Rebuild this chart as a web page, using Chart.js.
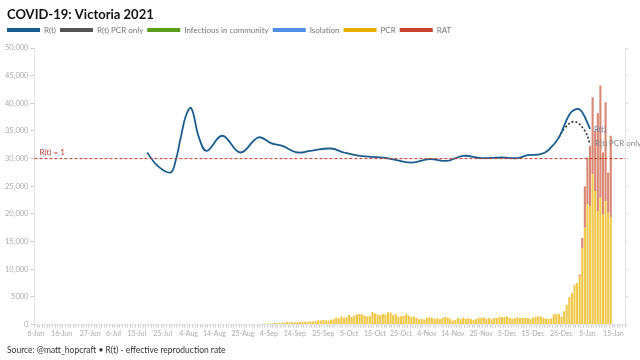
<!DOCTYPE html>
<html lang="en">
<head>
<meta charset="UTF-8">
<title>COVID-19: Victoria 2021</title>
<script src="https://cdn.jsdelivr.net/npm/chart.js"></script>
<style>
  html, body { margin: 0; padding: 0; background: #fff; }
  #wrap { width: 640px; height: 360px; }
</style>
</head>
<body>
<div id="wrap"><canvas id="covidChart"></canvas></div>
<script>
// one category per day, 6-Jun-2021 .. 19-Jan-2022
const monthNames = ['Jan','Feb','Mar','Apr','May','Jun','Jul','Aug','Sep','Oct','Nov','Dec'];
const days = [];
for (let i = 0; i < 228; i++) {
    const d = new Date(2021, 5, 6 + i);
    days.push(d.getDate() + '-' + monthNames[d.getMonth()]);
}

const tickLabels = ['6-Jun','16-Jun','27-Jun','6-Jul','15-Jul','25-Jul','4-Aug','14-Aug','25-Aug',
    '4-Sep','14-Sep','25-Sep','5-Oct','15-Oct','25-Oct','4-Nov','14-Nov','25-Nov','5-Dec','15-Dec',
    '26-Dec','5-Jan','15-Jan'];

// daily cases, PCR from 1-Sep, RAT from 2-Jan
const pcrStart = '1-Sep';
const pcrCases = [
    120,176,208,190,183,246,246,324,334,334,450,392,473,445,423,514,510,535,507,567,603,628,766,733,847,779,705,867,950,1300,
    1143,1488,1220,1377,1763,1420,1638,1838,1965,1890,1612,1466,1571,2297,1993,1838,1749,1903,1841,2232,2189,1750,1935,1461,1510,1534,1923,1656,1355,1471,1221,
    989,1069,941,1247,1313,1221,1035,1126,1003,1173,1362,1313,1052,760,831,1179,1007,1273,1069,1145,1029,827,1029,1254,1252,1342,1061,1173,952,1179,
    1188,1419,1365,1362,1470,1227,1073,1185,1312,1206,1231,1196,1201,1022,1290,1405,1504,1450,1240,1050,1000,1100,1850,1900,1940,1450,2400,3570,5000,5700,7200,
    7500,8720,13860,17490,21740,21430,27180,24150,20520,22940,19920,22340,20220,19300
];
const ratStart = '2-Jan';
const ratCases = [300,1810,7540,8480,10890,13920,10900,17680,20280,11200,17860,7260,14830,0];

// effective reproduction rate (right, hidden axis)
const rtDates = ['19-Jul','23-Jul','28-Jul','30-Jul','1-Aug','3-Aug','5-Aug','8-Aug','11-Aug','17-Aug','24-Aug','31-Aug',
    '5-Sep','9-Sep','15-Sep','20-Sep','28-Sep','3-Oct','9-Oct','17-Oct','21-Oct','29-Oct','5-Nov','12-Nov','18-Nov',
    '25-Nov','3-Dec','9-Dec','13-Dec','18-Dec','21-Dec','25-Dec','29-Dec','1-Jan','3-Jan','6-Jan'];
const rtValues = [1.037,0.957,0.916,0.987,1.128,1.26,1.305,1.128,1.047,1.138,1.037,1.128,
    1.092,1.078,1.037,1.047,1.061,1.037,1.017,1.007,0.999,0.976,0.997,0.987,1.017,
    1.003,1.007,1.003,1.021,1.027,1.052,1.128,1.265,1.3,1.28,1.179];
const rtPcrDates = ['25-Dec','27-Dec','31-Dec','4-Jan','6-Jan'];
const rtPcrValues = [1.128,1.18,1.223,1.168,1.09];

const legendColors = ['#1b5e8e','#555555','#5c9c1c','#4f8fe8','#e8ae00','#c8412c'];
const FONT = 'Lato, "Open Sans", sans-serif';

function padSeries(startLabel, values) {
    const start = days.indexOf(startLabel);
    return days.map((d, i) => (i >= start && i - start < values.length) ? values[i - start] : null);
}
function sparse(dates, values) {
    return days.map(d => {
        const k = dates.indexOf(d);
        return k === -1 ? null : values[k];
    });
}
function lastPoint(chart, index) {
    const meta = chart.getDatasetMeta(index);
    const ds = chart.data.datasets[index].data;
    for (let i = ds.length - 1; i >= 0; i--) {
        if (ds[i] !== null) return meta.data[i];
    }
    return null;
}

// a bit more room under the legend
const legendGap = {
    id: 'legendGap',
    beforeInit(chart) {
        const fit = chart.legend.fit;
        chart.legend.fit = function () {
            fit.bind(chart.legend)();
            this.height += 4;
        };
    }
};

// title, source line, R(t)=1 reference and end labels
const extras = {
    id: 'extras',
    afterDatasetsDraw(chart) {
        const ctx = chart.ctx, area = chart.chartArea, r = chart.scales.yR;
        const y1 = r.getPixelForValue(1);
        ctx.save();
        ctx.strokeStyle = '#c0392b';
        ctx.lineWidth = 1;
        ctx.setLineDash([3, 2]);
        ctx.beginPath();
        ctx.moveTo(area.left, y1);
        ctx.lineTo(area.right, y1);
        ctx.stroke();
        ctx.setLineDash([]);
        ctx.font = '8px ' + FONT;
        ctx.fillStyle = '#c0392b';
        ctx.textBaseline = 'bottom';
        ctx.fillText('R(t) = 1', area.left + 5, y1 - 2);

        ctx.textBaseline = 'middle';
        const p0 = lastPoint(chart, 0), p1 = lastPoint(chart, 1);
        if (p0) {
            ctx.fillStyle = '#6d7c99';
            ctx.fillText('R(t)', p0.x + 4, p0.y);
        }
        if (p1) {
            ctx.fillStyle = '#888';
            ctx.fillText('R(t) PCR only', p1.x + 5, p1.y);
        }
        ctx.restore();
    },
    afterDraw(chart) {
        const ctx = chart.ctx;
        ctx.save();
        ctx.fillStyle = '#111';
        ctx.font = 'bold 13px ' + FONT;
        ctx.textBaseline = 'alphabetic';
        ctx.fillText('COVID-19: Victoria 2021', 7, 19);
        ctx.fillStyle = '#333';
        ctx.font = '8.5px ' + FONT;
        ctx.fillText('Source: @matt_hopcraft \u2022 R(t) - effective reproduction rate', 7, 353);
        ctx.restore();
    }
};

const ctxc = document.getElementById('covidChart').getContext('2d');
new Chart(ctxc, {
    type: 'bar',
    data: {
        labels: days,
        datasets: [
            { type: 'line', label: 'R(t)', data: sparse(rtDates, rtValues), yAxisID: 'yR', spanGaps: true,
              borderColor: '#1b5e8e', borderWidth: 1.8, pointRadius: 0, tension: 0.4, order: 0 },
            { type: 'line', label: 'R(t) PCR only', data: sparse(rtPcrDates, rtPcrValues), yAxisID: 'yR', spanGaps: true,
              borderColor: '#333', borderWidth: 1.6, borderDash: [2, 2], pointRadius: 0, tension: 0.4, order: 0 },
            { label: 'Infectious in community', data: [], backgroundColor: '#5c9c1c', stack: 'cases', order: 1 },
            { label: 'Isolation', data: [], backgroundColor: '#4f8fe8', stack: 'cases', order: 1 },
            { label: 'PCR', data: padSeries(pcrStart, pcrCases), backgroundColor: '#f0c84c', stack: 'cases', order: 1 },
            { label: 'RAT', data: padSeries(ratStart, ratCases), backgroundColor: '#d98876', stack: 'cases', order: 1 }
        ]
    },
    options: {
        animation: false,
        responsive: true,
        maintainAspectRatio: false,
        layout: { padding: { top: 22, bottom: 20, left: 3, right: 12 } },
        datasets: { bar: { barPercentage: 0.82, categoryPercentage: 1 } },
        plugins: {
            legend: {
                align: 'start',
                labels: {
                    boxWidth: 33, boxHeight: 4, padding: 4,
                    useBorderRadius: true, borderRadius: 2,
                    color: '#777', font: { size: 8, family: FONT },
                    generateLabels: chart => chart.data.datasets.map((ds, i) => ({
                        text: ds.label, fillStyle: legendColors[i], strokeStyle: legendColors[i],
                        lineWidth: 0, hidden: false, datasetIndex: i, fontColor: '#777'
                    }))
                }
            },
            tooltip: { enabled: false }
        },
        scales: {
            x: {
                stacked: true,
                offset: true,
                grid: { drawOnChartArea: false, tickLength: 3, color: '#ccc' },
                border: { color: '#e3e3e3' },
                ticks: {
                    autoSkip: false, maxRotation: 0, padding: 2,
                    color: '#aaa', font: { size: 7, family: FONT },
                    callback: (v, i) => tickLabels.includes(days[i]) ? days[i] : ''
                }
            },
            y: {
                stacked: true,
                min: 0, max: 50000,
                grid: { drawOnChartArea: false, tickLength: 4, color: '#ccc' },
                border: { color: '#e3e3e3' },
                ticks: {
                    stepSize: 5000, padding: 2,
                    color: '#aaa', font: { size: 7.5, family: FONT },
                    callback: v => v >= 10000 ? v.toLocaleString('en-US') : String(v)
                }
            },
            yR: {
                axis: 'y',
                position: 'right',
                min: 0, max: 5 / 3,
                grid: { drawOnChartArea: false, tickLength: 3, color: '#ddd' },
                border: { color: '#e3e3e3' },
                ticks: { display: false, stepSize: 1 / 6 }
            }
        }
    },
    plugins: [legendGap, extras]
});
</script>
</body>
</html>
